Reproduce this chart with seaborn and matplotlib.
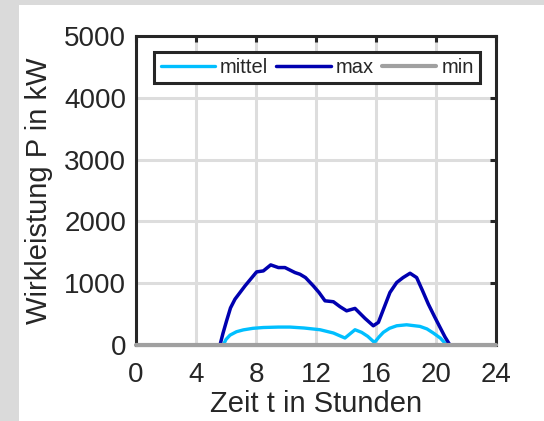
import matplotlib
matplotlib.use("Agg")
import matplotlib.pyplot as plt
import seaborn as sns
import pandas as pd
from matplotlib.patches import Rectangle

# ---- data ----
t_mittel = [0, 5.82, 6.0, 6.27, 6.7, 7.16, 7.8, 8.49, 9.5, 10.27, 11.2, 12.27, 13.16,
            13.93, 14.6, 15.04, 15.45, 15.9, 16.2, 16.49, 16.9, 17.38, 18.04, 18.93,
            19.4, 19.82, 20.3, 20.71, 24]
p_mittel = [0, 0, 90, 160, 215, 245, 270, 283, 290, 290, 275, 247, 194,
            113, 247, 205, 140, 40, 130, 205, 270, 311, 327, 301,
            260, 194, 110, 0, 0]

t_max = [0, 5.6, 5.8, 6.04, 6.3, 6.6, 7.27, 8.04, 8.49, 8.98, 9.49, 9.93, 10.6, 10.93,
         11.3, 11.82, 12.2, 12.6, 13.16, 13.6, 14.04, 14.6, 15.27, 15.82, 16.16, 16.5,
         16.93, 17.38, 17.8, 18.27, 18.71, 19.1, 19.49, 19.9, 20.27, 20.6, 20.93, 24]
p_max = [0, 0, 190, 392, 600, 742, 957, 1183, 1199, 1296, 1253, 1253, 1172, 1145,
         1091, 957, 850, 715, 700, 620, 553, 592, 430, 311, 366, 580,
         850, 1011, 1090, 1161, 1091, 880, 661, 460, 285, 130, 0, 0]

t_min = [0, 24]
p_min = [0, 0]

x_ticks = [0, 4, 8, 12, 16, 20, 24]
y_ticks = [0, 1000, 2000, 3000, 4000, 5000]

sns.set_theme(style="white")
plt.rcParams['font.family'] = ['Liberation Sans', 'DejaVu Sans']

fig = plt.figure(figsize=(5.44, 4.21), dpi=100, facecolor='#dadada')
bg = Rectangle((19 / 544, 0), 1, 1 - 5 / 421, transform=fig.transFigure,
               facecolor='white', edgecolor='none', zorder=-10)
fig.add_artist(bg)
ax = fig.add_axes([136 / 544, 1 - 345 / 421, 360 / 544, 309 / 421])
ax.set_facecolor('white')

df_mittel = pd.DataFrame({"t": t_mittel, "p": p_mittel})
df_max = pd.DataFrame({"t": t_max, "p": p_max})
df_min = pd.DataFrame({"t": t_min, "p": p_min})

sns.lineplot(data=df_mittel, x="t", y="p", ax=ax, color='#00bfff', lw=2.4,
             label='mittel', zorder=3, estimator=None, sort=False)
sns.lineplot(data=df_max, x="t", y="p", ax=ax, color='#0000b0', lw=2.5,
             label='max', zorder=4, estimator=None, sort=False)
sns.lineplot(data=df_min, x="t", y="p", ax=ax, color='#a0a0a0', lw=3.0,
             label='min', zorder=5, estimator=None, sort=False, clip_on=False)

ax.set_xlim(0, 24)
ax.set_ylim(0, 5000)
ax.set_xticks(x_ticks)
ax.set_yticks(y_ticks)
ax.grid(True, color='#dddddd', lw=2.2)
ax.set_axisbelow(True)

for s in ax.spines.values():
    s.set_linewidth(2.2)
    s.set_color('#262626')
    s.set_zorder(4.5)

ax.tick_params(direction='in', length=4, width=2.2, color='#262626',
               top=True, right=True, labelsize=20, labelcolor='#262626')
ax.tick_params(axis='x', pad=12)
ax.tick_params(axis='y', pad=7)

ax.set_xlabel('Zeit t in Stunden', fontsize=21, color='#262626', labelpad=2)
ax.set_ylabel('Wirkleistung P in kW', fontsize=21, color='#262626', labelpad=8)

leg = ax.legend(loc='upper center', bbox_to_anchor=(0.503, 0.948), ncol=3,
                fontsize=14.5, frameon=True, fancybox=False, framealpha=1,
                edgecolor='#262626', handlelength=2.7, handletextpad=0.25,
                columnspacing=0.4, borderpad=0.3, borderaxespad=0)
leg.get_frame().set_linewidth(2.2)
for txt in leg.get_texts():
    txt.set_color('#262626')

fig.savefig('out.png', dpi=100, facecolor=fig.get_facecolor())
